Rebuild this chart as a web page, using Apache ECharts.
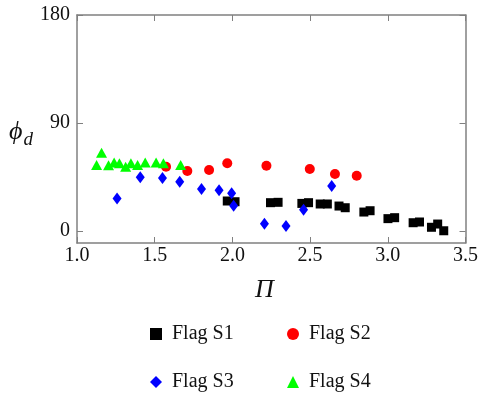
<!DOCTYPE html>
<html>
<head>
<meta charset="utf-8">
<script src="https://cdn.jsdelivr.net/npm/echarts@6/dist/echarts.min.js"></script>
<style>
  html, body { margin: 0; padding: 0; background: #fff; }
  #chart { width: 481px; height: 393px; }
</style>
</head>
<body>
<div id="chart"></div>
<script>
const xTicks = [1.0, 1.5, 2.0, 2.5, 3.0, 3.5];
const yTicks = [0, 90, 180];

const flagS1 = [
  [1.967, 25], [2.017, 24.4], [2.245, 23.6], [2.294, 23.9], [2.447, 23], [2.49, 23.6],
  [2.565, 22.5], [2.611, 22.5], [2.686, 20.8], [2.726, 19.4], [2.846, 15.8], [2.886, 16.9],
  [3.001, 10.3], [3.044, 11.1], [3.163, 6.9], [3.204, 7.5], [3.281, 3.1], [3.321, 5.8], [3.36, 0.2]
];
const flagS2 = [
  [1.573, 53.6], [1.71, 50], [1.85, 50.8], [1.967, 56.4], [2.219, 54.4], [2.498, 51.7],
  [2.66, 47.5], [2.8, 46]
];
const flagS3 = [
  [1.258, 27], [1.407, 44.7], [1.55, 44.2], [1.661, 41], [1.801, 35], [1.914, 33.9],
  [1.995, 31.4], [2.008, 21], [2.206, 6.1], [2.345, 4.2], [2.458, 17.8], [2.639, 37.5]
];
const flagS4 = [
  [1.126, 55], [1.158, 65.3], [1.203, 54.7], [1.239, 57], [1.273, 56.4], [1.313, 53.6],
  [1.347, 56.4], [1.39, 55], [1.439, 57], [1.509, 57], [1.556, 56.4], [1.667, 55]
];

const serif = '"Liberation Serif", "DejaVu Serif", serif';
const axisColor = '#808080';

const chart = echarts.init(document.getElementById('chart'), null, { renderer: 'canvas' });

const baseX = {
  type: 'value', min: xTicks[0], max: xTicks[xTicks.length - 1], interval: 0.5,
  axisLine: { show: true, onZero: false, lineStyle: { color: axisColor, width: 1.5 } },
  axisTick: { inside: true, length: 6, lineStyle: { color: axisColor } },
  splitLine: { show: false }
};
const baseY = {
  type: 'value', min: -10, max: 180,
  axisLine: { show: true, onZero: false, lineStyle: { color: axisColor, width: 1.5 } },
  axisTick: { inside: true, length: 6, customValues: yTicks, lineStyle: { color: axisColor } },
  splitLine: { show: false }
};

const legendText = { fontFamily: serif, fontSize: 20, color: '#111', padding: [0, 0, 0, 5] };
const legendAt = (name, left, top) => ({
  data: [name], left: left, top: top, padding: 0, itemWidth: 12, itemHeight: 12,
  textStyle: legendText
});

chart.setOption({
  animation: false,
  grid: { left: 77, right: 13, top: 15, bottom: 150 },
  xAxis: [
    Object.assign({}, baseX, {
      position: 'bottom',
      axisLabel: {
        color: '#111', fontFamily: serif, fontSize: 20, margin: 3,
        formatter: v => v.toFixed(1)
      }
    }),
    Object.assign({}, baseX, { position: 'top', axisLabel: { show: false } })
  ],
  yAxis: [
    Object.assign({}, baseY, {
      position: 'left',
      axisLabel: {
        color: '#111', fontFamily: serif, fontSize: 20, margin: 7,
        customValues: yTicks
      }
    }),
    Object.assign({}, baseY, { position: 'right', axisLabel: { show: false } })
  ],
  graphic: [
    {
      type: 'text', left: 9, top: 119,
      style: {
        text: '{a|ϕ}{b|d}',
        rich: {
          a: { fontFamily: serif, fontStyle: 'italic', fontSize: 26, fill: '#111' },
          b: { fontFamily: serif, fontStyle: 'italic', fontSize: 19, fill: '#111', padding: [16, 0, 0, 1] }
        }
      }
    },
    {
      type: 'text', left: 255, top: 277,
      style: { text: 'Π', fontFamily: serif, fontStyle: 'italic', fontSize: 26, fill: '#111' }
    }
  ],
  legend: [
    legendAt('Flag S1', 150, 324),
    legendAt('Flag S2', 287, 324),
    legendAt('Flag S3', 150, 372),
    legendAt('Flag S4', 287, 372)
  ],
  series: [
    { name: 'Flag S1', type: 'scatter', data: flagS1, symbol: 'rect', symbolSize: 9, itemStyle: { color: '#000', opacity: 1 } },
    { name: 'Flag S2', type: 'scatter', data: flagS2, symbol: 'circle', symbolSize: 10, itemStyle: { color: '#ff0000', opacity: 1 } },
    { name: 'Flag S3', type: 'scatter', data: flagS3, symbol: 'diamond', symbolSize: [9, 12], itemStyle: { color: '#0000ff', opacity: 1 } },
    { name: 'Flag S4', type: 'scatter', data: flagS4, symbol: 'triangle', symbolSize: [11, 10], itemStyle: { color: '#00ff00', opacity: 1 } }
  ]
});
</script>
</body>
</html>
